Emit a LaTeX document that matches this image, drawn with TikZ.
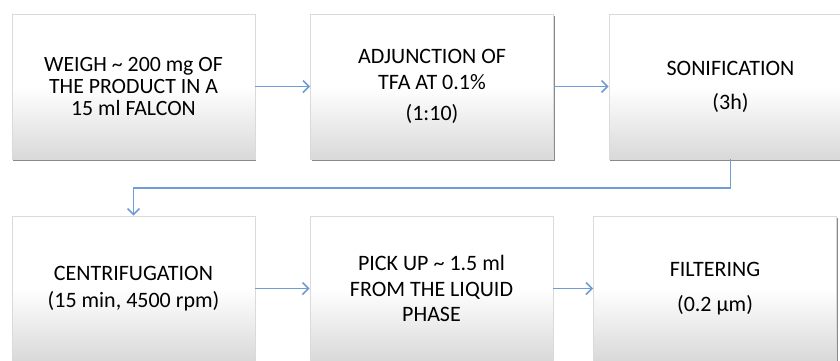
\documentclass[tikz,border=0pt]{standalone}
\usepackage{fontspec}
\setmainfont{Carlito}
\usetikzlibrary{arrows.meta,shadows}
\definecolor{flowblue}{RGB}{112,156,214}
\definecolor{edgegray}{RGB}{218,218,218}
\tikzset{
  stepbox/.style={rectangle, minimum width=243pt, minimum height=145pt,
    inner sep=0pt, draw=edgegray, line width=0.6pt,
    top color=white, bottom color=black!15, middle color=white,
    drop shadow={shadow xshift=1.4pt, shadow yshift=-2.2pt, fill=black!65, opacity=0.7},
    align=center, text=black, font=\fontsize{22}{25.5}\selectfont},
  flow/.style={draw=flowblue, line width=1.7pt, -{Straight Barb[length=6pt,width=12pt]}},
}
\begin{document}
\begin{tikzpicture}[x=1pt, y=-1pt]
  \useasboundingbox (0,0) rectangle (840,360);
  \clip (0,0) rectangle (840,360);

  % top row
  \node[stepbox, font=\fontsize{21.8}{21.7}\selectfont] (s1) at (133.5,86.5)
    {WEIGH \textasciitilde{} 200 mg OF\\THE PRODUCT IN A\\15 ml FALCON};
  \node[stepbox] (s2) at (432,86.5) {ADJUNCTION OF\\TFA AT 0.1\%\\[6pt](1:10)};
  \node[stepbox] (s3) at (730.5,86.5) {SONIFICATION\\[8.5pt](3h)};

  % bottom row
  \node[stepbox] (s4) at (133.5,288.5) {CENTRIFUGATION\\[1.5pt](15 min, 4500 rpm)};
  \node[stepbox] (s5) at (431.5,288.5) {PICK UP \textasciitilde{} 1.5 ml\\FROM THE LIQUID\\PHASE};
  \node[stepbox] (s6) at (715,288.5) {\raisebox{-1.5pt}{FILTERING}\\[11pt](0.2 µm)};

  % connectors
  \draw[flow] (s1) -- (s2);
  \draw[flow] (s2) -- (s3);
  \draw[flow] (s3.south) -- ++(0,29) -| (s4.north);
  \draw[flow] (s4) -- (s5);
  \draw[flow] (s5) -- (s6);
\end{tikzpicture}
\end{document}
